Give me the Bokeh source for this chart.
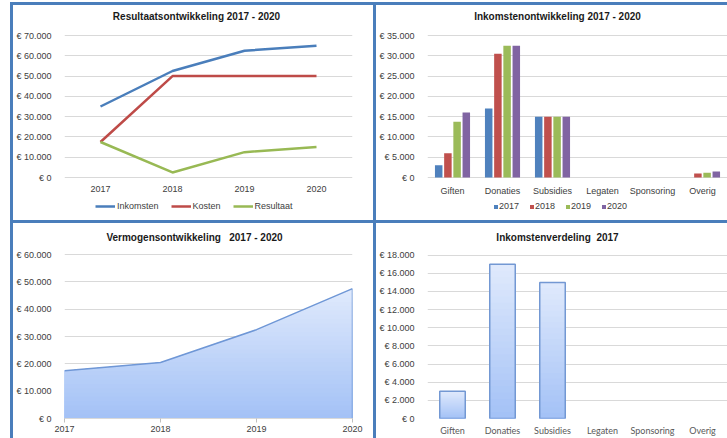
from bokeh.plotting import figure
from bokeh.models import (GridBox, FactorRange, Range1d, FixedTicker, Legend,
                          LegendItem, Label, ColumnDataSource)
from bokeh.transform import dodge
from bokeh.embed import file_html
from bokeh.resources import INLINE
import numpy as np

# ---------------- data ----------------
years = ["2017", "2018", "2019", "2020"]
inkomsten = [35000, 52500, 62500, 65000]
kosten = [17500, 50000, 50000, 50000]
resultaat = [17500, 2500, 12500, 15000]

categories = ["Giften", "Donaties", "Subsidies", "Legaten", "Sponsoring", "Overig"]
ink_2017 = [3000, 17000, 15000, 0, 0, 0]
ink_2018 = [6000, 30500, 15000, 0, 0, 1000]
ink_2019 = [13750, 32500, 15000, 0, 0, 1200]
ink_2020 = [16000, 32500, 15000, 0, 0, 1500]

verm_years = [2017, 2018, 2019, 2020]
vermogen = [17500, 20500, 32500, 47500]

verdeling_2017 = [3000, 17000, 15000, 0, 0, 0]

res_ticks = [0, 10000, 20000, 30000, 40000, 50000, 60000, 70000]
res_labels = ["€ 0", "€ 10.000", "€ 20.000", "€ 30.000", "€ 40.000", "€ 50.000", "€ 60.000", "€ 70.000"]
ink_ticks = [0, 5000, 10000, 15000, 20000, 25000, 30000, 35000]
ink_labels = ["€ 0", "€ 5.000", "€ 10.000", "€ 15.000", "€ 20.000", "€ 25.000", "€ 30.000", "€ 35.000"]
verm_ticks = [0, 10000, 20000, 30000, 40000, 50000, 60000]
verm_labels = ["€ 0", "€ 10.000", "€ 20.000", "€ 30.000", "€ 40.000", "€ 50.000", "€ 60.000"]
verd_ticks = [0, 2000, 4000, 6000, 8000, 10000, 12000, 14000, 16000, 18000]
verd_labels = ["€ 0", "€ 2.000", "€ 4.000", "€ 6.000", "€ 8.000", "€ 10.000", "€ 12.000",
               "€ 14.000", "€ 16.000", "€ 18.000"]

titles = ["Resultaatsontwikkeling 2017 - 2020",
          "Inkomstenontwikkeling 2017 - 2020",
          "Vermogensontwikkeling \u00a0 2017 - 2020",
          "Inkomstenverdeling \u00a02017"]

# ---------------- style ----------------
FONT = "Liberation Sans"
TXT = "#404040"
GRID = "#d9d9d9"
BORDER = "#4a7ebb"
C_INK, C_KOS, C_RES = "#4a7ebb", "#be4b48", "#98b954"
YEAR_COLORS = ["#4f81bd", "#c0504d", "#9bbb59", "#8064a2"]


def y_range_for(vmax, frame_h, px_top, px_zero):
    """Range so that vmax sits px_top pixels below the frame top and 0 sits
    px_zero pixels below the frame top (frame height frame_h)."""
    per_px = vmax / (px_zero - px_top)
    return Range1d(-(frame_h - px_zero) * per_px, vmax + px_top * per_px)


def base_fig(w, h, x_range, y_range, ml, mr, mt, mb):
    p = figure(width=w, height=h, x_range=x_range, y_range=y_range,
               output_backend="svg", toolbar_location=None, title=None,
               min_border_left=ml, min_border_right=mr,
               min_border_top=mt, min_border_bottom=mb,
               styles={"background-color": "white"})
    p.outline_line_color = None
    p.outline_line_alpha = 0
    p.background_fill_color = "white"
    p.border_fill_color = "white"
    p.xgrid.grid_line_color = None
    p.ygrid.grid_line_color = GRID
    p.ygrid.grid_line_width = 1
    for ax in p.axis:
        ax.axis_line_color = None
        ax.major_tick_line_color = None
        ax.minor_tick_line_color = None
        ax.major_label_text_font = FONT
        ax.major_label_text_font_size = "9px"
        ax.major_label_text_color = TXT
        ax.axis_label_standoff = 0
        ax.axis_label_text_font_size = "1px"
    p.yaxis.major_label_standoff = 7
    p.xaxis.major_label_standoff = 2
    return p


def set_yticks(p, ticks, labels):
    p.yaxis.ticker = FixedTicker(ticks=ticks)
    p.yaxis.major_label_overrides = {t: l for t, l in zip(ticks, labels)}


def add_title(p, text, x, y):
    p.add_layout(Label(x=x, y=y, x_units="screen", y_units="screen", text=text,
                       text_align="center", text_baseline="middle",
                       text_font=FONT, text_font_size="10px",
                       text_font_style="bold", text_color="#1a1a1a"))


def legend_style(lg):
    lg.border_line_color = None
    lg.background_fill_alpha = 0
    lg.padding = 0
    lg.margin = 0
    lg.label_text_font = FONT
    lg.label_text_font_size = "9px"
    lg.label_text_color = TXT
    lg.label_height = 10
    lg.orientation = "horizontal"


# ---------------- panel 1: Resultaatsontwikkeling ----------------
# canvas 360x215; frame covers rows 0..208 of it; 70000 at row 30, 0 at row 172
p1 = base_fig(360, 215, FactorRange(factors=years, range_padding=0),
              y_range_for(70000, 208, 30, 172), 47, 11, 0, 7)
set_yticks(p1, res_ticks, res_labels)
p1.xaxis.fixed_location = 0
r_ink = p1.line(years, inkomsten, line_color=C_INK, line_width=2.5)
r_kos = p1.line(years, kosten, line_color=C_KOS, line_width=2.5)
r_res = p1.line(years, resultaat, line_color=C_RES, line_width=2.5)
lg1 = Legend(items=[LegendItem(label="Inkomsten", renderers=[r_ink]),
                    LegendItem(label="Kosten", renderers=[r_kos]),
                    LegendItem(label="Resultaat", renderers=[r_res])],
             location=(31, 2))
legend_style(lg1)
lg1.glyph_width = 20
lg1.glyph_height = 10
lg1.label_standoff = 2
lg1.spacing = 12
p1.add_layout(lg1)
add_title(p1, titles[0], 132, 197)

# ---------------- panel 2: Inkomstenontwikkeling ----------------
src2 = ColumnDataSource(dict(cat=categories, y2017=ink_2017, y2018=ink_2018,
                             y2019=ink_2019, y2020=ink_2020))
p2 = base_fig(351, 215, FactorRange(factors=categories, range_padding=0),
              y_range_for(35000, 208, 30, 172), 51, 0, 0, 7)
set_yticks(p2, ink_ticks, ink_labels)
p2.xaxis.fixed_location = 0
offsets = [-0.276, -0.092, 0.092, 0.276]
bars = []
for col, off, c in zip(["y2017", "y2018", "y2019", "y2020"], offsets, YEAR_COLORS):
    bars.append(p2.vbar(x=dodge("cat", off, range=p2.x_range), top=col, width=0.15,
                        source=src2, fill_color=c, line_color=None))
lg2 = Legend(items=[LegendItem(label=y, renderers=[b]) for y, b in zip(years, bars)],
             location=(66, 2))
legend_style(lg2)
lg2.glyph_width = 5
lg2.glyph_height = 5
lg2.label_standoff = 1
lg2.spacing = 10
p2.add_layout(lg2)
add_title(p2, titles[1], 130, 197)

# ---------------- panel 3: Vermogensontwikkeling ----------------
# canvas 360x215; frame rows 0..195; 60000 at row 31
p3 = base_fig(360, 215, Range1d(2017, 2020), y_range_for(60000, 195, 31, 195),
              47, 21, 0, 20)
set_yticks(p3, verm_ticks, verm_labels)
p3.xaxis.ticker = FixedTicker(ticks=verm_years)
p3.xaxis.axis_line_color = GRID
p3.xaxis.major_tick_line_color = "#bfbfbf"
p3.xaxis.major_tick_out = 4
p3.xaxis.major_tick_in = 0
p3.xaxis.major_label_standoff = 3

# vertical gradient fill, light at the top, darker at the bottom
top_rgb = np.array([0xe0, 0xea, 0xfc])
bot_rgb = np.array([0xa3, 0xc1, 0xf6])
vx = np.array(verm_years, dtype=float)
vy = np.array(vermogen, dtype=float)
ymax = vy.max()
N = 30


def clip_top(xs, ys, hi):
    px, py = [], []
    for i in range(len(xs) - 1):
        x0, y0, x1, y1 = xs[i], ys[i], xs[i + 1], ys[i + 1]
        px.append(x0); py.append(y0)
        if (y0 - hi) * (y1 - hi) < 0:
            t = (hi - y0) / (y1 - y0)
            px.append(x0 + t * (x1 - x0)); py.append(hi)
    px.append(xs[-1]); py.append(ys[-1])
    return px, list(np.minimum(py, hi))


def shade(frac):
    rgb = bot_rgb + (top_rgb - bot_rgb) * frac
    return "#%02x%02x%02x" % tuple(int(round(v)) for v in rgb)


for k in range(N, 0, -1):
    hi = ymax * k / N
    px, py = clip_top(vx, vy, hi)
    p3.varea(x=px, y1=0, y2=py, fill_color=shade((k - 0.5) / N))
p3.line(verm_years, vermogen, line_color="#6f97d6", line_width=1.5)
p3.segment(x0=[verm_years[-1]], y0=[0], x1=[verm_years[-1]], y1=[vermogen[-1]],
           line_color="#6f97d6", line_width=1.5)
add_title(p3, titles[2], 130, 181)

# ---------------- panel 4: Inkomstenverdeling 2017 ----------------
p4 = base_fig(351, 215, FactorRange(factors=categories, range_padding=0),
              y_range_for(18000, 195, 31.7, 195), 51, 0, 0, 20)
set_yticks(p4, verd_ticks, verd_labels)
p4.xaxis.major_label_text_font = "Lato"
p4.xaxis.major_label_text_color = "#595959"
p4.xaxis.major_label_standoff = 0
bar_cats = [c for c, v in zip(categories, verdeling_2017) if v > 0]
bar_vals = np.array([v for v in verdeling_2017 if v > 0], dtype=float)
NB = 24
for k in range(NB, 0, -1):
    p4.vbar(x=bar_cats, top=list(bar_vals * k / NB), width=0.51,
            fill_color=shade((k - 0.5) / NB), line_color=None)
p4.vbar(x=bar_cats, top=list(bar_vals), width=0.51, fill_color=None,
        line_color="#7398d3", line_width=1.5)
add_title(p4, titles[3], 130, 181)

# ---------------- layout ----------------
grid = GridBox(children=[(p1, 0, 0), (p2, 0, 1), (p3, 1, 0), (p4, 1, 1)], spacing=3,
               styles={"background-color": BORDER, "padding": "3px 0px 0px 3px",
                       "margin": "2px 0px 0px 10px"})

open("out.html", "w").write(file_html(grid, INLINE))
